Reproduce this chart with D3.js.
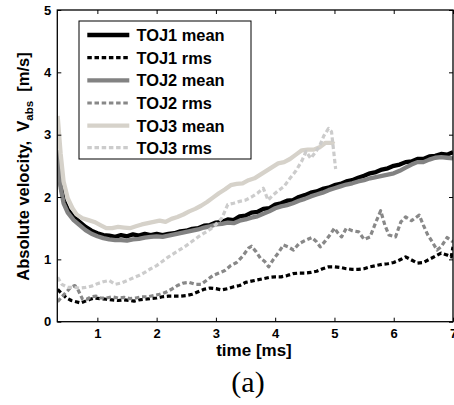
<!DOCTYPE html>
<html><head><meta charset="utf-8">
<script src="https://cdn.jsdelivr.net/npm/d3@7"></script>
<style>body{margin:0;background:#fff}svg{display:block}</style>
</head><body>
<script>
const xTicks = [1,2,3,4,5,6,7];
const yTicks = [0,1,2,3,4,5];
const seriesNames = ["TOJ1 mean","TOJ1 rms","TOJ2 mean","TOJ2 rms","TOJ3 mean","TOJ3 rms"];

const toj1Mean = [[0.33,2.72],[0.38,2.2],[0.43,1.95],[0.5,1.8],[0.6,1.68],[0.7,1.6],[0.8,1.52],[0.9,1.46],[1.0,1.42],[1.1,1.39],[1.2,1.38],[1.3,1.36],[1.4,1.39],[1.5,1.37],[1.6,1.4],[1.7,1.38],[1.8,1.41],[1.9,1.39],[2.0,1.41],[2.1,1.39],[2.2,1.41],[2.3,1.42],[2.4,1.45],[2.5,1.46],[2.6,1.49],[2.7,1.5],[2.8,1.54],[2.9,1.55],[3.0,1.59],[3.1,1.6],[3.2,1.64],[3.3,1.63],[3.4,1.69],[3.5,1.7],[3.6,1.75],[3.7,1.76],[3.8,1.81],[3.9,1.82],[4.0,1.88],[4.1,1.9],[4.2,1.94],[4.3,1.95],[4.4,2.0],[4.5,2.03],[4.6,2.07],[4.7,2.09],[4.8,2.13],[4.9,2.15],[5.0,2.19],[5.1,2.21],[5.2,2.25],[5.3,2.27],[5.4,2.31],[5.5,2.34],[5.6,2.38],[5.7,2.4],[5.8,2.44],[5.9,2.46],[6.0,2.5],[6.1,2.52],[6.2,2.56],[6.3,2.57],[6.4,2.61],[6.5,2.61],[6.6,2.65],[6.7,2.66],[6.8,2.69],[6.9,2.68],[7.0,2.72]];

const toj1Rms = [[0.33,0.52],[0.4,0.45],[0.48,0.38],[0.56,0.34],[0.64,0.32],[0.72,0.3],[0.8,0.33],[0.88,0.36],[0.96,0.38],[1.05,0.37],[1.15,0.36],[1.25,0.35],[1.35,0.34],[1.45,0.35],[1.55,0.34],[1.62,0.33],[1.7,0.35],[1.8,0.36],[1.9,0.37],[2.0,0.38],[2.1,0.4],[2.2,0.41],[2.3,0.41],[2.4,0.41],[2.5,0.42],[2.6,0.44],[2.7,0.48],[2.8,0.52],[2.9,0.54],[3.0,0.53],[3.1,0.51],[3.2,0.53],[3.3,0.56],[3.4,0.58],[3.5,0.63],[3.6,0.65],[3.7,0.67],[3.8,0.69],[3.9,0.71],[4.0,0.72],[4.1,0.72],[4.2,0.74],[4.3,0.77],[4.4,0.78],[4.5,0.78],[4.6,0.79],[4.7,0.81],[4.8,0.85],[4.9,0.88],[5.0,0.88],[5.1,0.87],[5.2,0.85],[5.3,0.84],[5.4,0.84],[5.5,0.85],[5.6,0.88],[5.7,0.9],[5.8,0.92],[5.9,0.93],[6.0,0.95],[6.1,0.99],[6.2,1.04],[6.3,0.99],[6.4,0.94],[6.5,0.95],[6.6,1.0],[6.7,1.05],[6.8,1.1],[6.9,1.07],[6.97,1.04],[7.0,1.2]];

const toj2Mean = [[0.33,2.75],[0.38,2.15],[0.43,1.9],[0.5,1.75],[0.6,1.63],[0.7,1.55],[0.8,1.47],[0.9,1.41],[1.0,1.37],[1.1,1.34],[1.2,1.32],[1.3,1.31],[1.4,1.31],[1.5,1.3],[1.6,1.32],[1.7,1.33],[1.8,1.35],[1.9,1.36],[2.0,1.37],[2.1,1.36],[2.2,1.38],[2.3,1.4],[2.4,1.42],[2.5,1.44],[2.6,1.46],[2.7,1.48],[2.8,1.51],[2.9,1.53],[3.0,1.56],[3.1,1.57],[3.2,1.59],[3.3,1.58],[3.4,1.62],[3.5,1.64],[3.6,1.67],[3.7,1.69],[3.8,1.73],[3.9,1.77],[4.0,1.82],[4.1,1.85],[4.2,1.87],[4.3,1.9],[4.4,1.94],[4.5,1.97],[4.6,2.01],[4.7,2.04],[4.8,2.07],[4.9,2.11],[5.0,2.14],[5.1,2.17],[5.2,2.2],[5.3,2.22],[5.4,2.25],[5.5,2.27],[5.6,2.3],[5.7,2.32],[5.8,2.34],[5.9,2.36],[6.0,2.38],[6.1,2.42],[6.2,2.47],[6.3,2.52],[6.4,2.56],[6.5,2.56],[6.6,2.6],[6.7,2.63],[6.8,2.64],[6.9,2.63],[7.0,2.62]];

const toj2Rms = [[0.33,0.32],[0.4,0.4],[0.48,0.48],[0.55,0.55],[0.62,0.58],[0.68,0.5],[0.75,0.36],[0.82,0.36],[0.9,0.4],[0.98,0.41],[1.05,0.38],[1.15,0.38],[1.25,0.4],[1.35,0.38],[1.45,0.39],[1.55,0.37],[1.65,0.38],[1.75,0.4],[1.85,0.4],[1.95,0.42],[2.05,0.44],[2.15,0.47],[2.25,0.52],[2.35,0.58],[2.45,0.62],[2.55,0.63],[2.65,0.6],[2.75,0.6],[2.85,0.67],[2.95,0.74],[3.05,0.78],[3.15,0.82],[3.25,0.9],[3.35,0.95],[3.45,1.05],[3.55,1.18],[3.6,1.21],[3.68,1.12],[3.75,1.02],[3.82,0.97],[3.89,0.88],[3.97,1.0],[4.05,1.1],[4.14,1.23],[4.22,1.2],[4.31,1.15],[4.4,1.25],[4.5,1.3],[4.62,1.35],[4.7,1.28],[4.76,1.2],[4.85,1.3],[4.93,1.4],[5.0,1.5],[5.06,1.42],[5.12,1.36],[5.2,1.5],[5.3,1.46],[5.41,1.44],[5.5,1.32],[5.6,1.36],[5.7,1.6],[5.78,1.78],[5.85,1.55],[5.92,1.39],[6.03,1.36],[6.12,1.6],[6.2,1.68],[6.3,1.62],[6.43,1.71],[6.5,1.55],[6.57,1.4],[6.65,1.28],[6.73,1.15],[6.8,1.2],[6.9,1.35],[7.0,1.28]];

const toj3Mean = [[0.33,3.3],[0.38,2.7],[0.43,2.25],[0.5,1.98],[0.58,1.82],[0.65,1.72],[0.75,1.66],[0.85,1.63],[0.95,1.6],[1.05,1.55],[1.15,1.5],[1.25,1.5],[1.35,1.52],[1.45,1.51],[1.55,1.5],[1.65,1.53],[1.75,1.56],[1.85,1.58],[1.95,1.6],[2.05,1.62],[2.15,1.6],[2.25,1.65],[2.35,1.68],[2.45,1.72],[2.55,1.77],[2.65,1.81],[2.75,1.86],[2.85,1.92],[2.95,1.99],[3.05,2.06],[3.15,2.12],[3.25,2.19],[3.35,2.21],[3.45,2.22],[3.55,2.27],[3.65,2.3],[3.75,2.36],[3.85,2.42],[3.95,2.48],[4.05,2.54],[4.15,2.56],[4.25,2.61],[4.35,2.68],[4.45,2.75],[4.55,2.76],[4.65,2.76],[4.75,2.8],[4.85,2.87],[4.95,2.87],[5.0,2.85]];

const toj3Rms = [[0.33,0.71],[0.4,0.6],[0.5,0.55],[0.6,0.55],[0.7,0.54],[0.8,0.55],[0.9,0.57],[1.0,0.61],[1.1,0.64],[1.2,0.66],[1.3,0.6],[1.4,0.62],[1.5,0.66],[1.6,0.7],[1.7,0.74],[1.8,0.79],[1.9,0.85],[2.0,0.9],[2.1,0.97],[2.2,1.04],[2.3,1.1],[2.4,1.16],[2.5,1.22],[2.6,1.29],[2.7,1.36],[2.8,1.42],[2.9,1.48],[3.0,1.56],[3.1,1.66],[3.2,1.88],[3.3,1.9],[3.4,1.93],[3.5,1.95],[3.6,2.0],[3.7,2.06],[3.8,2.14],[3.88,1.95],[3.95,2.02],[4.05,2.1],[4.15,2.17],[4.25,2.3],[4.35,2.42],[4.45,2.58],[4.52,2.73],[4.6,2.62],[4.68,2.72],[4.75,2.82],[4.82,2.98],[4.9,3.1],[4.95,3.05],[5.02,2.45]];

const series = [
  {name: seriesNames[0], data: toj1Mean, color: "#000000", width: 4.3, dash: null},
  {name: seriesNames[1], data: toj1Rms,  color: "#000000", width: 3.2, dash: "4.5,2.7"},
  {name: seriesNames[2], data: toj2Mean, color: "#828282", width: 4.3, dash: null},
  {name: seriesNames[3], data: toj2Rms,  color: "#888888", width: 3.2, dash: "4.5,2.7"},
  {name: seriesNames[4], data: toj3Mean, color: "#d6d2ca", width: 4.3, dash: null},
  {name: seriesNames[5], data: toj3Rms,  color: "#cccccc", width: 3.2, dash: "4.5,2.7"}
];

const W = 454, H = 405;
const L = 57.3, R = 453, T = 10, B = 321.7;
const FONT = "'Liberation Sans', Arial, sans-serif";

const svg = d3.select("body").append("svg").attr("width", W).attr("height", H);
const x = d3.scaleLinear().domain([0.324, 7]).range([L, R]);
const y = d3.scaleLinear().domain([0, 5]).range([B, T]);

const defs = svg.append("defs");
defs.append("clipPath").attr("id","clip").append("rect")
  .attr("x", L).attr("y", T).attr("width", R-L).attr("height", B-T);

const line = d3.line().x(d => x(d[0])).y(d => y(d[1]));
const plot = svg.append("g").attr("clip-path","url(#clip)");
series.forEach(s => {
  plot.append("path").datum(s.data).attr("d", line)
    .attr("fill","none").attr("stroke", s.color).attr("stroke-width", s.width)
    .attr("stroke-dasharray", s.dash).attr("stroke-linejoin","round");
});

// axes
const tl = 4;
const gB = svg.append("g").attr("transform",`translate(0,${B})`)
  .call(d3.axisBottom(x).tickValues(xTicks).tickSize(-tl).tickPadding(7).tickFormat(d3.format("d")));
const gT = svg.append("g").attr("transform",`translate(0,${T})`)
  .call(d3.axisTop(x).tickValues(xTicks).tickSize(-tl).tickFormat(""));
const gL = svg.append("g").attr("transform",`translate(${L},0)`)
  .call(d3.axisLeft(y).tickValues(yTicks).tickSize(-tl).tickPadding(6).tickFormat(d3.format("d")));
const gR = svg.append("g").attr("transform",`translate(${R},0)`)
  .call(d3.axisRight(y).tickValues(yTicks).tickSize(-tl).tickFormat(""));
[gB,gT,gL,gR].forEach(g => {
  g.select(".domain").remove();
  g.selectAll("line").attr("stroke","#000").attr("stroke-width",1);
  g.selectAll("text").attr("font-family",FONT).attr("font-weight","bold")
    .attr("font-size",13).attr("fill","#000");
});
svg.append("rect").attr("x",L).attr("y",T).attr("width",R-L).attr("height",B-T)
  .attr("fill","none").attr("stroke","#000").attr("stroke-width",1.3);

// axis labels
svg.append("text").attr("x", 254).attr("y", 355.5).attr("text-anchor","middle")
  .attr("font-family",FONT).attr("font-weight","bold").attr("font-size",17)
  .text("time [ms]");

const yl = svg.append("text").attr("transform","translate(28.5,166.5) rotate(-90)")
  .attr("text-anchor","middle").attr("font-family",FONT).attr("font-weight","bold")
  .attr("font-size",16.5).attr("xml:space","preserve");
yl.append("tspan").text("Absolute velocity,  V");
yl.append("tspan").attr("font-size",11.5).attr("dy",4).text("abs");
yl.append("tspan").attr("dy",-4).text("  [m/s]");

// caption
svg.append("text").attr("x", 248).attr("y", 392).attr("text-anchor","middle")
  .attr("font-family","'Liberation Serif','Times New Roman',serif").attr("font-size",30)
  .text("(a)");

// legend
const lg = svg.append("g");
lg.append("rect").attr("x",79).attr("y",21).attr("width",172).attr("height",138)
  .attr("fill","#fff").attr("stroke","#000").attr("stroke-width",1);
const rowY = [35, 57.7, 80.3, 103, 125.7, 147.7];
series.forEach((s,i) => {
  lg.append("line").attr("x1",87.3).attr("x2",129.3).attr("y1",rowY[i]).attr("y2",rowY[i])
    .attr("stroke",s.color).attr("stroke-width",s.width).attr("stroke-dasharray",s.dash);
  lg.append("text").attr("x",136.5).attr("y",rowY[i]+5.8)
    .attr("font-family",FONT).attr("font-weight","bold").attr("font-size",16.4)
    .attr("fill","#000").text(s.name);
});
</script>
</body></html>
